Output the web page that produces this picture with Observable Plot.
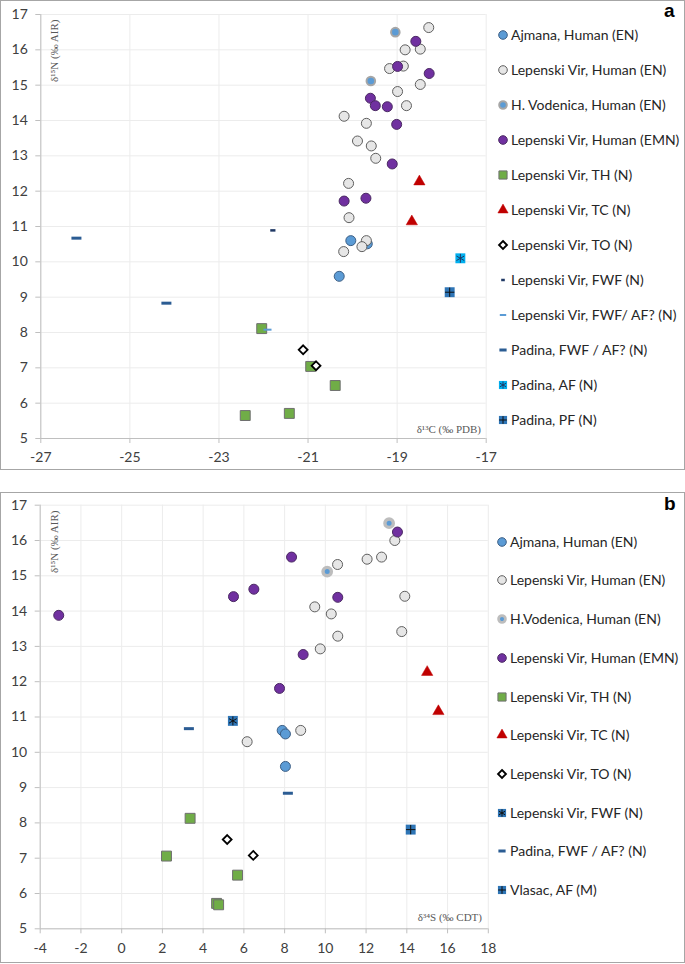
<!DOCTYPE html>
<html><head><meta charset="utf-8">
<script src="https://cdn.jsdelivr.net/npm/d3@7"></script>
<script src="https://cdn.jsdelivr.net/npm/@observablehq/plot@0.6"></script>
<style>
body{margin:0;background:#fff;}
#page{position:relative;width:685px;height:964px;overflow:hidden;font-family:Lato,"Open Sans",sans-serif;background:#fff;}
.frame{position:absolute;border:1px solid #a6a6a6;box-sizing:border-box;left:0;width:685px;}
.plotwrap{position:absolute;left:0;}
.plotwrap g[aria-label="x-axis tick"], .plotwrap g[aria-label="y-axis tick"]{stroke:#bfbfbf;}
.ylab{position:absolute;font-family:"Liberation Serif",serif;font-size:11px;color:#595959;transform-origin:left top;transform:rotate(-90deg);white-space:nowrap;line-height:13px;}
.xlab{position:absolute;font-family:"Liberation Serif",serif;font-size:11px;color:#595959;white-space:nowrap;line-height:13px;}
.plabel{position:absolute;font-family:"Liberation Sans",Arial,sans-serif;font-weight:bold;font-size:19px;color:#000;line-height:20px;}
.li{position:absolute;display:flex;align-items:center;white-space:nowrap;font-size:14px;color:#262626;height:16px;line-height:16px;}
.li svg{flex:none;}
</style></head>
<body><div id="page"></div>
<script>
// ---------------- DATA: panel a (δ13C vs δ15N) ----------------
const aAjmanaC = [-20.04, -19.67, -20.30];
const aAjmanaN = [10.60, 10.51, 9.59];
const aLvEnC = [-18.29,-18.82,-18.48,-19.17,-18.86,-18.48,-18.99,-18.79,-20.19,-19.69,-19.89,-19.58,-19.48,-20.09,-20.08,-19.69,-19.79,-20.20];
const aLvEnN = [16.63,16.00,16.02,15.47,15.54,15.02,14.82,14.42,14.12,13.92,13.42,13.28,12.93,12.22,11.25,10.60,10.43,10.29];
const aHvC = [-19.04,-19.59];
const aHvN = [16.50,15.12];
const aEmnC = [-18.58,-18.99,-18.28,-19.60,-19.49,-19.22,-19.01,-19.11,-20.19,-19.70];
const aEmnN = [16.24,15.53,15.33,14.63,14.42,14.39,13.89,12.77,11.72,11.80];
const aThC = [-22.04,-20.94,-20.39,-22.41,-21.42];
const aThN = [8.11,7.04,6.50,5.65,5.71];
const aTcC = [-18.50,-18.67];
const aTcN = [12.27,11.14];
const aToC = [-21.11,-20.82];
const aToN = [7.51,7.06];
const aLvFwfC = [-21.79];
const aLvFwfN = [10.89];
const aLvFwfAfC = [-21.91];
const aLvFwfAfN = [8.08];
const aPadFwfC = [-26.20,-24.18];
const aPadFwfN = [10.67,8.83];
const aPadAfC = [-17.58];
const aPadAfN = [10.10];
const aPadPfC = [-17.82];
const aPadPfN = [9.14];
const aXTicks = [-27,-25,-23,-21,-19,-17];
const aYTicks = [5,6,7,8,9,10,11,12,13,14,15,16,17];

// ---------------- DATA: panel b (δ34S vs δ15N) ----------------
const bAjmanaS = [7.88, 8.04, 8.04];
const bAjmanaN = [10.62, 10.52, 9.60];
const bLvEnS = [13.41,12.05,12.76,10.60,13.90,9.48,10.29,10.61,9.75,13.75,8.79,6.16];
const bLvEnN = [16.00,15.47,15.53,15.32,14.42,14.12,13.92,13.29,12.93,13.42,10.62,10.30];
const bHvS = [13.13,10.09];
const bHvN = [16.49,15.12];
const bEmnS = [13.54,8.34,5.49,6.49,10.61,8.91,7.75,-3.09];
const bEmnN = [16.24,15.53,14.41,14.62,14.39,12.77,11.81,13.88];
const bThS = [3.36,2.20,5.69,4.66,4.76];
const bThN = [8.13,7.06,6.52,5.72,5.68];
const bTcS = [15.00,15.55];
const bTcN = [12.27,11.16];
const bToS = [5.18,6.46];
const bToN = [7.53,7.08];
const bLvFwfS = [5.46];
const bLvFwfN = [10.89];
const bPadFwfS = [3.30,8.16];
const bPadFwfN = [10.67,8.84];
const bVlasacS = [14.19];
const bVlasacN = [7.81];
const bXTicks = [-4,-2,0,2,4,6,8,10,12,14,16,18];
const bYTicks = [5,6,7,8,9,10,11,12,13,14,15,16,17];

const aNames = ["Ajmana, Human (EN)","Lepenski Vir, Human (EN)","H. Vodenica, Human (EN)","Lepenski Vir, Human (EMN)","Lepenski Vir, TH (N)","Lepenski Vir, TC (N)","Lepenski Vir, TO (N)","Lepenski Vir, FWF (N)","Lepenski Vir, FWF/ AF? (N)","Padina, FWF / AF? (N)","Padina, AF (N)","Padina, PF (N)"];
const bNames = ["Ajmana, Human (EN)","Lepenski Vir, Human (EN)","H.Vodenica, Human (EN)","Lepenski Vir, Human (EMN)","Lepenski Vir, TH (N)","Lepenski Vir, TC (N)","Lepenski Vir, TO (N)","Lepenski Vir, FWF (N)","Padina, FWF / AF? (N)","Vlasac, AF (M)"];

// ---------------- STYLES ----------------
const dash = (h) => ({draw(ctx, size){ const w = Math.sqrt(size/Math.PI); ctx.rect(-w, -h/2, 2*w, h); }});
const stAjmana = {symbol:"circle", r:5, fill:"#5b9bd5", stroke:"#3d5f85", sw:1, lr:4.3};
const stLvEn = {symbol:"circle", r:5, fill:"#e6e6e6", stroke:"#5f5f5f", sw:1, lr:4.3};
const stHvA = {symbol:"circle", r:4.3, fill:"#5b9bd5", stroke:"#a6a6a6", sw:2, lr:3.8};
const stHvB = {symbol:"circle", r:4.2, fill:"#5b9bd5", stroke:"#bdbdbd", sw:3.4, lr:3.4, lsw:2.8};
const stEmn = {symbol:"circle", r:5, fill:"#7030a0", stroke:"#4b2a63", sw:1, lr:4.3};
const stTh = {symbol:"square", r:5.6, fill:"#70ad47", stroke:"#6f6f6f", sw:1, lr:4.6};
const stTc = {symbol:"triangle", r:4.2, fill:"#c00000", stroke:"#c00000", sw:0.5, lr:3.8};
const stTo = {symbol:"diamond2", r:4, fill:"#ffffff", stroke:"#000000", sw:1.8, lr:3.6};
const stLvFwfA = {symbol:dash(2.5), r:2.6, fill:"#1f3864", stroke:"none", sw:0, lr:1.8, lsym:dash(2.5)};
const stLvFwfAf = {symbol:dash(2), r:4, fill:"#5b9bd5", stroke:"none", sw:0, lr:3.2, lsym:dash(2)};
const stPadFwf = {symbol:dash(3), r:5, fill:"#2b5c93", stroke:"none", sw:0, lr:3.6, lsym:dash(3)};
const stPadAf = {symbol:"square", r:5.6, fill:"#00b0f0", stroke:"none", sw:0, lr:4.6, overlay:"asterisk", or:4.2, lor:3.4, ostroke:"#1f3864"};
const stPadPf = {symbol:"square", r:5.6, fill:"#2e75b6", stroke:"none", sw:0, lr:4.6, overlay:"plus", or:3.1, lor:2.6, ostroke:"#111111"};
const stLvFwfB = {symbol:"square", r:5.6, fill:"#2e75b6", stroke:"none", sw:0, lr:4.6, overlay:"asterisk", or:4.2, lor:3.4, ostroke:"#111111"};

const aSeries = [
  [aAjmanaC,aAjmanaN,stAjmana],[aLvEnC,aLvEnN,stLvEn],[aHvC,aHvN,stHvA],[aEmnC,aEmnN,stEmn],
  [aThC,aThN,stTh],[aTcC,aTcN,stTc],[aToC,aToN,stTo],[aLvFwfC,aLvFwfN,stLvFwfA],
  [aLvFwfAfC,aLvFwfAfN,stLvFwfAf],[aPadFwfC,aPadFwfN,stPadFwf],[aPadAfC,aPadAfN,stPadAf],[aPadPfC,aPadPfN,stPadPf]
];
const bSeries = [
  [bAjmanaS,bAjmanaN,stAjmana],[bLvEnS,bLvEnN,stLvEn],[bHvS,bHvN,stHvB],[bEmnS,bEmnN,stEmn],
  [bThS,bThN,stTh],[bTcS,bTcN,stTc],[bToS,bToN,stTo],[bLvFwfS,bLvFwfN,stLvFwfB],
  [bPadFwfS,bPadFwfN,stPadFwf],[bVlasacS,bVlasacN,stPadPf]
];

const page = document.getElementById("page");

function seriesMarks(series){
  const marks = [];
  for (const [xs, ys, st] of series) {
    const data = xs.map((x, i) => ({x, y: ys[i]}));
    marks.push(Plot.dot(data, {x:"x", y:"y", symbol: st.symbol, r: st.r, fill: st.fill, stroke: st.stroke, strokeWidth: st.sw}));
    if (st.overlay) marks.push(Plot.dot(data, {x:"x", y:"y", symbol: st.overlay, r: st.or, fill:"none", stroke: st.ostroke, strokeWidth: 1}));
  }
  return marks;
}

function makePanel(cfg){
  const fmt = d => String(d);
  const chart = Plot.plot({
    width: cfg.width, height: cfg.height,
    marginLeft: cfg.ml, marginRight: cfg.mr, marginTop: cfg.mt, marginBottom: cfg.mb,
    style: {fontFamily: "Lato, 'Open Sans', sans-serif", fontSize: "14px", color: "#404040", background: "transparent"},
    x: {domain: cfg.xdomain},
    y: {domain: [5, 17]},
    marks: [
      Plot.ruleX(cfg.xticks, {stroke: "#ececec", strokeWidth: 1}),
      Plot.ruleY(cfg.yticks, {stroke: "#ececec", strokeWidth: 1}),
      Plot.ruleX([cfg.xdomain[0]], {stroke: "#bfbfbf"}),
      Plot.ruleY([5], {stroke: "#bfbfbf"}),
      Plot.axisX({ticks: cfg.xticks, tickSize: 5, tickPadding: 9, tickFormat: fmt, label: null, fill: "#404040"}),
      Plot.axisY({ticks: cfg.yticks, tickSize: 5, tickPadding: 8, tickFormat: fmt, label: null, fill: "#404040"}),
      ...seriesMarks(cfg.series)
    ]
  });
  const wrap = document.createElement("div");
  wrap.className = "plotwrap";
  wrap.style.top = cfg.top + "px";
  wrap.appendChild(chart);
  page.appendChild(wrap);
}

function legendSym(st){
  const svgNS = "http://www.w3.org/2000/svg";
  const svg = document.createElementNS(svgNS, "svg");
  svg.setAttribute("width", 16); svg.setAttribute("height", 16);
  const g = document.createElementNS(svgNS, "g");
  g.setAttribute("transform", "translate(8,8)");
  const typeOf = s => typeof s === "object" ? s : ({circle:d3.symbolCircle, square:d3.symbolSquare, triangle:d3.symbolTriangle, diamond2:d3.symbolDiamond2, asterisk:d3.symbolAsterisk, plus:d3.symbolPlus, times:d3.symbolTimes})[s];
  const p = document.createElementNS(svgNS, "path");
  p.setAttribute("d", d3.symbol(typeOf(st.lsym || st.symbol), Math.PI * st.lr * st.lr)());
  p.setAttribute("fill", st.fill);
  p.setAttribute("stroke", st.stroke);
  p.setAttribute("stroke-width", st.lsw ?? st.sw);
  g.appendChild(p);
  if (st.overlay) {
    const q = document.createElementNS(svgNS, "path");
    q.setAttribute("d", d3.symbol(typeOf(st.overlay), Math.PI * st.lor * st.lor)());
    q.setAttribute("fill", "none"); q.setAttribute("stroke", st.ostroke); q.setAttribute("stroke-width", 1);
    g.appendChild(q);
  }
  svg.appendChild(g);
  return svg;
}

function makeLegend(names, series, left, top0, step){
  names.forEach((name, i) => {
    const li = document.createElement("div");
    li.className = "li";
    li.style.left = left + "px";
    li.style.top = (top0 + i * step - 8) + "px";
    li.appendChild(legendSym(series[i][2]));
    const t = document.createElement("span");
    t.textContent = name;
    li.appendChild(t);
    page.appendChild(li);
  });
}

function addText(cls, txt, left, top){
  const d = document.createElement("div");
  d.className = cls; d.textContent = txt;
  d.style.left = left + "px"; d.style.top = top + "px";
  page.appendChild(d);
  return d;
}

// Panel a
makePanel({top: 0, width: 505, height: 470, ml: 40.3, mr: 19.3, mt: 14, mb: 32, xdomain: [-27, -17], xticks: aXTicks, yticks: aYTicks, series: aSeries});
// Panel b
makePanel({top: 492, width: 505, height: 470, ml: 39.7, mr: 17.2, mt: 12.7, mb: 33.7, xdomain: [-4, 18], xticks: bXTicks, yticks: bYTicks, series: bSeries});

makeLegend(aNames, aSeries, 495, 35, 35);
makeLegend(bNames, bSeries, 494, 541.7, 38.7);

addText("ylab", "δ¹⁵N (‰ AIR)", 48, 82);
addText("ylab", "δ¹⁵N (‰ AIR)", 48, 573);
const xa = addText("xlab", "δ¹³C (‰ PDB)", 0, 423);
xa.style.left = "auto"; xa.style.right = (685 - 481) + "px";
const xb = addText("xlab", "δ³⁴S (‰ CDT)", 0, 911);
xb.style.left = "auto"; xb.style.right = (685 - 482) + "px";
addText("plabel", "a", 664, 1);
addText("plabel", "b", 664, 494);

// frames on top
const fa = document.createElement("div"); fa.className = "frame"; fa.style.top = "0px"; fa.style.height = "470px"; page.appendChild(fa);
const fb = document.createElement("div"); fb.className = "frame"; fb.style.top = "492px"; fb.style.height = "471px"; page.appendChild(fb);
</script>
</body></html>
